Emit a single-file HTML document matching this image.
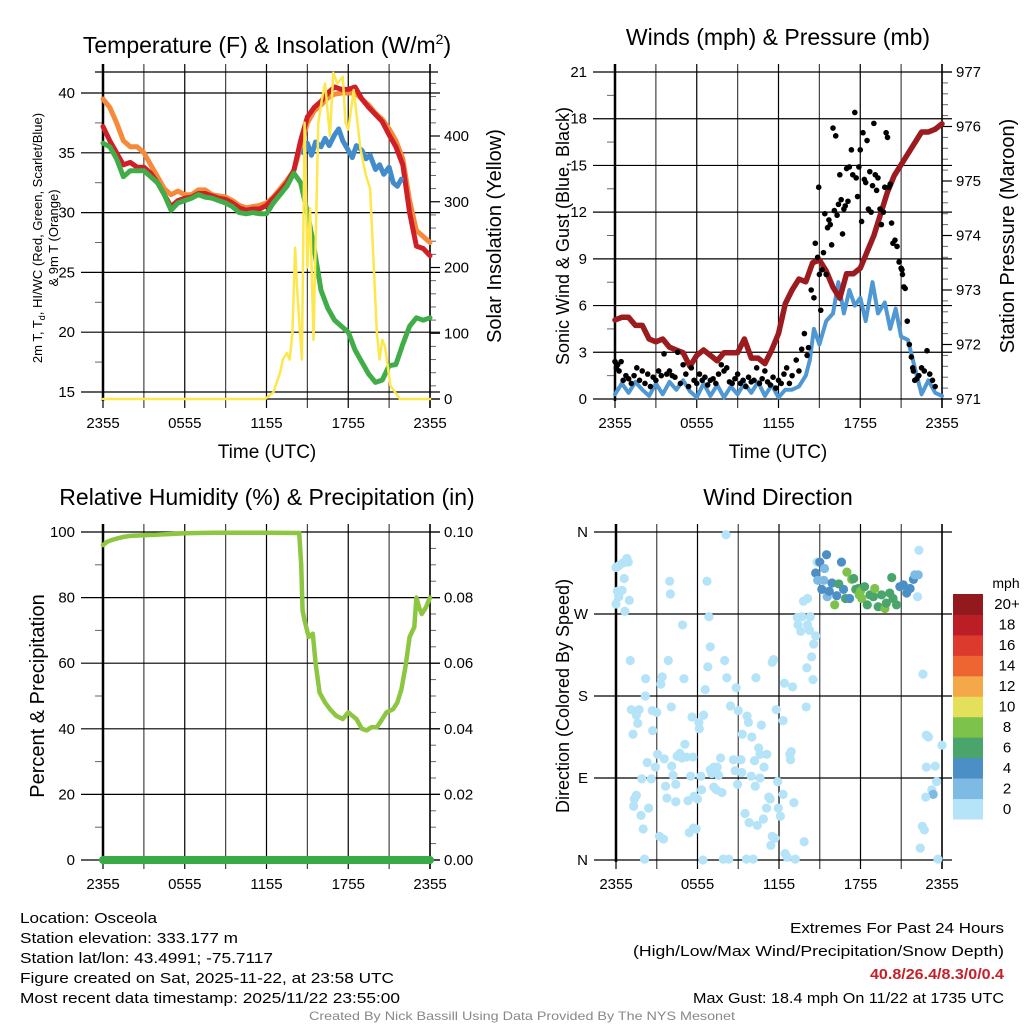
<!DOCTYPE html>
<html><head><meta charset="utf-8">
<style>
html,body{margin:0;padding:0;background:#fff;}
svg{display:block;font-family:"Liberation Sans",sans-serif;}
.ft{font-family:"Liberation Sans",sans-serif;font-size:15px;fill:#000;}
</style></head>
<body>
<svg id="chart" width="1024" height="1024" viewBox="0 0 1024 1024" xmlns="http://www.w3.org/2000/svg">
<rect width="1024" height="1024" fill="#fff"/>
<text x="267" y="53" font-size="23" text-anchor="middle">Temperature (F) &amp; Insolation (W/m<tspan dy="-9" font-size="14">2</tspan><tspan dy="9">)</tspan></text>
<text x="778" y="45" font-size="23" text-anchor="middle">Winds (mph) &amp; Pressure (mb)</text>
<text x="267" y="505" font-size="23" text-anchor="middle">Relative Humidity (%) &amp; Precipitation (in)</text>
<text x="778" y="505" font-size="23" text-anchor="middle">Wind Direction</text>
<text x="267" y="458" font-size="19" text-anchor="middle">Time (UTC)</text>
<text x="778" y="458" font-size="19" text-anchor="middle">Time (UTC)</text>
<text transform="translate(42,238) rotate(-90)" font-size="13" text-anchor="middle">2m T, T<tspan dy="3" font-size="9">d</tspan><tspan dy="-3">, HI/WC (Red, Green, Scarlet/Blue)</tspan></text>
<text transform="translate(58,238) rotate(-90)" font-size="13" text-anchor="middle">&amp; 9m T (Orange)</text>
<text transform="translate(501,236) rotate(-90)" font-size="20" text-anchor="middle">Solar Insolation (Yellow)</text>
<text transform="translate(569,236) rotate(-90)" font-size="18" text-anchor="middle">Sonic Wind &amp; Gust (Blue, Black)</text>
<text transform="translate(1014,236) rotate(-90)" font-size="20" text-anchor="middle">Station Pressure (Maroon)</text>
<text transform="translate(44,696) rotate(-90)" font-size="20" text-anchor="middle">Percent &amp; Precipitation</text>
<text transform="translate(569,696) rotate(-90)" font-size="18" text-anchor="middle">Direction (Colored By Speed)</text>
<text x="1006" y="588" font-size="14" text-anchor="middle">mph</text>
<g>
<text x="20" y="923" class="ft" textLength="137" lengthAdjust="spacingAndGlyphs">Location: Osceola</text>
<text x="20" y="943" class="ft" textLength="218" lengthAdjust="spacingAndGlyphs">Station elevation: 333.177 m</text>
<text x="20" y="963" class="ft" textLength="253" lengthAdjust="spacingAndGlyphs">Station lat/lon: 43.4991; -75.7117</text>
<text x="20" y="983" class="ft" textLength="374" lengthAdjust="spacingAndGlyphs">Figure created on Sat, 2025-11-22, at 23:58 UTC</text>
<text x="20" y="1003" class="ft" textLength="380" lengthAdjust="spacingAndGlyphs">Most recent data timestamp: 2025/11/22 23:55:00</text>
</g>
<g>
<text x="790" y="933" class="ft" textLength="214" lengthAdjust="spacingAndGlyphs">Extremes For Past 24 Hours</text>
<text x="633" y="956" class="ft" textLength="371" lengthAdjust="spacingAndGlyphs">(High/Low/Max Wind/Precipitation/Snow Depth)</text>
<text x="870" y="979" class="ft" textLength="134" lengthAdjust="spacingAndGlyphs" style="fill:#c8202a;font-weight:bold">40.8/26.4/8.3/0/0.4</text>
<text x="693" y="1003" class="ft" textLength="311" lengthAdjust="spacingAndGlyphs">Max Gust: 18.4 mph On 11/22 at 1735 UTC</text>
</g>
<text x="309" y="1020" font-size="12" fill="#888" textLength="426" lengthAdjust="spacingAndGlyphs">Created By Nick Bassill Using Data Provided By The NYS Mesonet</text>
</svg>
<script>
const timeHours=[0,6,12,18,24];
const timeLabels=['2355','0555','1155','1755','2355'];
const tempTicks=[15,20,25,30,35,40];
const insolTicks=[0,100,200,300,400];
const windTicks=[0,3,6,9,12,15,18,21];
const presTicks=[971,972,973,974,975,976,977];
const rhTicks=[0,20,40,60,80,100];
const precipTicks=['0.00','0.02','0.04','0.06','0.08','0.10'];
const dirTicks=[0,90,180,270,360];
const dirLabels=['N','E','S','W','N'];

const tHours=[0,0.5,1,1.5,2,2.5,3,3.5,4,4.5,5,5.5,6,6.5,7,7.5,8,8.5,9,9.5,10,10.5,11,11.5,12,12.5,13,13.5,14,14.5,15,15.5,16,16.5,17,17.5,18,18.5,19,19.5,20,20.5,21,21.5,22,22.5,23,23.5,24];
const temp2m=[37.2,36,35,34,34.2,33.8,33.8,33.3,32.5,31.5,30.5,31,31.2,31.3,31.6,31.6,31.4,31.2,31.1,30.8,30.4,30.2,30.3,30.3,30.6,31.2,31.8,32.5,33.5,36,38,38.8,39.3,40,40.5,40.3,40.3,40.5,39.5,38.8,38.2,37.6,36.5,35.5,34,30,27.2,27,26.4];
const temp9m=[39.5,38.8,37.5,36,35.5,35.5,35,34,33,32,31.5,31.8,31.5,31.5,31.9,31.9,31.5,31.4,31.3,31,30.6,30.4,30.5,30.6,30.8,31.3,32,32.7,33.5,35.5,37.5,38.5,39,39.6,39.9,40,40,40,39.5,39,38.3,37.8,37,36,34.5,31,28.5,28,27.5];
const dewpt=[35.8,35.5,34.5,33,33.5,33.5,33.5,33,32.5,31.5,30.2,30.8,31,31.2,31.5,31.3,31.2,31,30.8,30.5,30,29.9,30,29.9,29.9,30.8,31.5,32.2,33.3,32.5,30,27,23.5,22,21,20.5,20,18.5,17.5,16.5,15.8,16,17.2,17.3,19,20.5,21.2,21,21.2];
const hiwcHours=[14.7,15,15.3,15.6,16,16.3,16.6,17,17.3,17.6,18,18.3,18.6,19,19.3,19.6,20,20.3,20.6,21,21.3,21.6,21.9];
const hiwc=[35,35.8,34.8,35.9,35.5,36.2,35.6,36.5,37,36,35.2,34.6,35.6,35.2,34.5,34.8,33.6,34,33.2,33.8,32.5,32.2,32.8];
const solHours=[0,11.9,12.5,13.0,13.2,13.5,13.7,13.9,14.1,14.3,14.6,14.8,15.0,15.2,15.45,15.8,16.1,16.3,16.65,16.9,17.2,17.6,17.8,18.0,18.4,18.9,19.3,19.6,20.1,20.3,20.5,20.7,21.1,21.8,24];
const solar=[0,0,10,40,60,70,60,100,230,150,60,420,200,290,90,420,460,480,400,496,480,490,420,410,470,380,340,320,100,60,90,80,20,0,0];

const windHours=[0,0.5,1,1.5,2,2.5,3,3.5,4,4.5,5,5.5,6,6.5,7,7.5,8,8.5,9,9.5,10,10.5,11,11.5,12,12.5,13,13.5,14,14.3,14.6,15,15.5,16,16.4,16.8,17.2,17.6,18,18.4,18.9,19.3,19.8,20.2,20.6,21,21.5,22,22.5,23,23.5,24];
const windMph=[0.3,1.0,0.4,1.1,0.6,0.2,1.0,0.3,1.1,0.6,1.2,0.5,0.1,1.0,0.2,0.9,0.1,0.8,0.3,1.0,0.4,1.1,0.2,0.9,0.1,0.6,0.6,0.8,1.5,2.5,4.5,3.5,5,5.5,7.5,5.5,7,6,6.5,5,7.5,5.5,6.2,4.5,5.8,4.0,3.8,2.0,0.3,1.2,0.4,0.2];
const presHours=[0,0.5,1,1.5,2,2.5,3,3.5,4,4.5,5,5.5,6,6.5,7,7.5,8,8.5,9,9.5,10,10.5,11,11.5,12,12.5,13,13.5,14,14.5,15,15.5,16,16.5,17,17.5,18,18.5,19,19.5,20,20.5,21,21.5,22,22.5,23,23.5,24];
const presMb=[972.45,972.5,972.5,972.35,972.35,972.1,972.05,972.1,971.95,971.9,971.85,971.6,971.8,971.9,971.8,971.7,971.85,971.85,971.85,972.1,971.75,971.75,971.65,971.9,972.2,972.75,973.0,973.2,973.15,973.5,973.55,973.35,973.05,972.85,973.3,973.3,973.4,973.7,974.0,974.4,974.8,975.1,975.3,975.5,975.7,975.9,975.9,975.95,976.05];
const gustHours=[0,0.1,0.2,0.3,0.45,0.6,0.8,1.0,1.2,1.4,1.6,1.8,2.0,2.2,2.4,2.6,2.8,3.0,3.2,3.4,3.6,3.8,4.0,4.2,4.4,4.6,4.8,5.0,5.2,5.4,5.6,5.8,6.0,6.2,6.4,6.6,6.8,7.0,7.2,7.4,7.6,7.8,8.0,8.2,8.4,8.6,8.8,9.0,9.2,9.4,9.6,9.8,10.0,10.2,10.4,10.6,10.8,11.0,11.2,11.4,11.6,11.8,12.0,12.2,12.4,12.6,12.8,13.0,13.3,13.5,13.7,13.9,14.1,14.2,14.4,14.6,14.7,14.87,14.95,15.0,15.1,15.2,15.3,15.4,15.5,15.6,15.7,15.8,15.9,16.0,16.1,16.2,16.3,16.4,16.5,16.6,16.7,16.8,16.9,17.0,17.1,17.2,17.35,17.45,17.6,17.7,17.8,17.9,18.0,18.1,18.2,18.3,18.4,18.5,18.6,18.7,18.8,18.9,19.0,19.1,19.2,19.3,19.45,19.55,19.7,19.8,19.9,20.0,20.1,20.2,20.3,20.4,20.55,20.7,20.85,21.0,21.06,21.1,21.2,21.3,21.45,21.6,21.75,21.85,21.9,22.0,22.15,22.3,22.5,22.7,22.9,23.1,23.3,23.5,23.7,23.9,24];
const gustMph=[2.4,2.0,2.2,1.8,2.4,1.2,1.5,1.3,1.0,1.5,2.0,1.2,1.8,1.0,1.6,0.8,1.4,1.2,1.8,1.5,2.9,1.6,1.8,1.5,1.4,3.0,1.0,2.2,1.6,0.8,2.0,1.2,1.0,1.6,1.2,1.4,0.9,1.2,1.3,1.0,1.6,2.2,1.8,2.0,1.1,1.0,1.3,1.6,1.0,1.2,0.8,1.4,1.1,1.2,2.0,1.0,1.3,1.8,1.1,0.9,1.4,0.7,1.2,1.0,1.6,2.0,1.0,1.5,2.5,1.8,3.2,4.2,2.8,3.3,7.0,6.5,10.0,9.1,13.6,8.0,5.7,8.3,9.4,11.9,8.0,11.0,11.5,11.2,9.9,17.4,12.1,16.9,11.8,12.5,14.4,12.8,10.6,12.2,12.4,14.8,12.7,14.9,16.0,14.4,18.4,14.2,13.0,14.9,16.0,11.4,17.1,14.1,13.9,16.6,12.2,14.6,12.0,13.7,17.7,14.4,13.4,14.2,12.2,11.2,12.0,13.6,17.1,16.8,13.6,13.8,11.3,10.0,10.2,9.8,8.8,8.4,8.3,8.0,7.2,7.1,5.0,3.5,2.7,2.0,1.8,1.2,1.3,1.5,2.0,1.8,3.1,1.6,1.2,0.8];

const rhHours=[0,0.3,0.6,1,1.5,2,3,4,5,6,8,12,14.4,14.55,14.65,14.8,15.1,15.4,15.6,15.9,16.3,16.65,17.1,17.6,18.0,18.3,18.6,19.0,19.35,19.7,20.1,20.5,20.8,21.3,21.6,21.9,22.2,22.5,22.85,23.0,23.2,23.4,23.7,24];
const rhPct=[96,97,97.5,98,98.5,98.8,99,99.2,99.4,99.6,99.8,99.8,99.7,90,76,73,68,69,60,51,48,46,44,43,45,44,43,40,39.5,40.5,40.5,43,45,46,48,52,59,68,71,80,77,75,77,80];
const precipHours=[0,24];
const precipIn=[0,0];

const dirHours=[0,0.2,0.5,0.8,0.9,0.6,0.1,0.45,0.2,0,0.98,0.65,1.05,2.18,2.16,1.13,1.7,1.5,1.6,1.25,2.67,3.0,2.7,2.3,2.9,3.06,1.9,2.6,1.5,1.35,1.3,1.84,2.4,2.0,2.1,3.2,3.5,3.4,3.3,4.07,3.55,3.65,3.75,4.1,4.2,4.4,4.4,4.5,4.7,5.07,5.2,4.85,5.5,5.66,5.6,5,4.9,3.85,3.95,4.0,6.7,6.84,6.94,6.76,6.57,6.1,6.45,6.13,6.25,6.3,5.75,5.3,6,5.7,5.9,5.4,6.4,6.94,7.2,7.45,7.7,7.2,7.4,7.8,7.05,7.55,8.0,8.16,8.1,8.43,7.9,8.3,8.85,9.0,9.3,9.65,9.75,10,8.65,8.77,9.2,8.95,9.26,9.95,10.25,10.2,10.5,10.7,10.6,11.1,10.9,10.6,10.3,9.5,9.8,10.4,10.85,11.25,11.35,11.08,9.6,10.1,11.5,11.7,11.4,11.9,11.95,12.1,12.3,12.3,11.8,11.5,11.6,12.4,13.0,12.8,12.9,12.85,13.1,12.45,12.6,13.2,13.85,14.0,14.05,14.5,14.4,14.55,14.7,14.25,14.1,13.6,13.4,13.7,14.3,13.35,13.8,14.1,
14.8,15.0,15.5,15.35,14.7,14.85,15.3,15.15,15.55,15.7,15.9,16.4,16.1,16.25,16.6,16.75,16.9,17.0,17.2,17.35,17.5,17.65,17.85,17.9,18.0,18.1,18.3,18.5,18.7,18.95,19.05,19.3,19.55,19.8,19.9,20.3,20.15,20.4,20.65,20.9,21.15,21.4,21.65,21.9,22.0,22.25,22.2,22.3,22.6,22.85,23.0,22.85,23.5,24,23.6,23.25,23.35,22.8,22.55,22.7,22.4,23.7];
const dirDeg=[321,323,326,331,327,309,295,296,289,281,285,273,219,199,180,165,165,159,150,138,164,162,142,107,102,116,89,89,71,67,59,49,57,34,1,26,23,201,193,168,111,81,68,103,93,83,64,114,117,127,113,112,92,113,157,199,258,219,306,292,306,267,234,212,187,151,159,144,92,77,70,65,67,35,34,30,0,99,102,102,112,80,77,74,95,93,219,200,357,169,1,1,189,164,138,158,151,135,110,98,110,83,96,92,81,109,123,148,116,116,102,90,200,51,41,38,45,69,67,57,1,1,26,24,16,86,57,48,72,153,165,217,220,194,190,116,119,110,63,7,3,1,20,168,211,198,223,237,246,252,258,251,258,267,267,266,284,287,
327,327,335,320,315,307,307,297,289,295,304,303,280,290,327,297,287,316,287,308,309,297,298,291,295,287,300,280,291,289,298,278,291,276,282,310,293,287,280,300,302,293,298,308,313,313,289,340,204,137,135,102,103,126,86,77,72,69,37,33,13,1];
const dirSpeed=[1,1,1,1,1,1,1,1,1,1,1,1,1,1,1,1,1,1,1,1,1,1,1,1,1,1,1,1,1,1,1,1,1,1,1,1,1,1,1,1,1,1,1,1,1,1,1,1,1,1,1,1,1,1,1,1,1,1,1,1,1,1,1,1,1,1,1,1,1,1,1,1,1,1,1,1,1,1,1,1,1,1,1,1,1,1,1,1,1,1,1,1,1,1,1,1,1,1,1,1,1,1,1,1,1,1,1,1,1,1,1,1,1,1,1,1,1,1,1,1,1,1,1,1,1,1,1,1,1,1,1,1,1,1,1,1,1,1,1,1,1,1,1,1,1,1,1,1,1,1,1,1,1,1,1,1,1,1,1,
5,5,3,5,3,3,5,3,5,5,7,9,5,5,5,7,9,5,9,7,7,7,9,9,9,7,7,7,7,9,7,7,9,7,7,7,7,7,5,5,5,5,5,3,3,1,1,1,1,1,1,1,1,1,1,3,1,1,1,1,1,1];
const cbLabels=['0','2','4','6','8','10','12','14','16','18','20+'];
const cbColors=['#b5e3f8','#7dbbe4','#4b8fc6','#4aa56c','#7dc24a','#e5e05c','#f5a84a','#ef6531','#dc3a2c','#bc1e26','#921a1c'];

const NS='http://www.w3.org/2000/svg';
const svg=document.getElementById('chart');
function mk(tag,parent,a){const e=document.createElementNS(NS,tag);for(const k in a)e.setAttribute(k,a[k]);parent.appendChild(e);return e;}
function linX(x0,x1){return h=>x0+h/24*(x1-x0);}
function lin(d0,d1,p0,p1){return v=>p0+(v-d0)/(d1-d0)*(p1-p0);}

const P1={x0:103,x1:430,y0:72,y1:399,name:'temp'};
const P2={x0:615,x1:942,y0:72,y1:399,name:'wind'};
const P3={x0:103,x1:430,y0:532,y1:860,name:'humidity'};
const P4={x0:616,x1:942,y0:532,y1:860,name:'direction'};

function frame(P,leftVals,leftLabels,leftScale,rightVals,rightLabels,rightScale,minorL,minorR){
  const g=mk('g',svg,{});
  
  
  const X=linX(P.x0,P.x1);
  for(let h=0;h<=24;h+=3){
    const x=X(h);
    const l=mk('line',g,{x1:x,x2:x,y1:P.y0-8,y2:P.y1+9,stroke:(h%6==0)?'#000':'#444','stroke-width':1.2});
    
    
  }
  timeHours.forEach((h,i)=>{
    const t=mk('text',g,{x:X(h),y:P.y1+29,'font-size':15,'text-anchor':'middle'});t.textContent=timeLabels[i];
    
    
  });
  leftVals.forEach((v,i)=>{
    const y=leftScale(v);
    const l=mk('line',g,{x1:P.x0-22,x2:P.x1+10,y1:y,y2:y,stroke:'#000','stroke-width':1.2});
    
    
    const t=mk('text',g,{x:P.x0-28,y:y+5,'font-size':15,'text-anchor':'end'});t.textContent=leftLabels[i];
    
    
  });
  minorL.forEach(v=>{const y=leftScale(v);
    const l=mk('line',g,{x1:P.x0-8,x2:P.x0,y1:y,y2:y,stroke:'#666','stroke-width':1});
    
    });
  if(rightVals){
    rightVals.forEach((v,i)=>{
      const y=rightScale(v);
      const l=mk('line',g,{x1:P.x1,x2:P.x1+10,y1:y,y2:y,stroke:'#000','stroke-width':1.2});
      
      
      const t=mk('text',g,{x:P.x1+14,y:y+5,'font-size':15,'text-anchor':'start'});t.textContent=rightLabels[i];
      
      
    });
    minorR.forEach(v=>{const y=rightScale(v);
      const l=mk('line',g,{x1:P.x1,x2:P.x1+6,y1:y,y2:y,stroke:'#666','stroke-width':1});
      
      });
  }
  const b=mk('line',g,{x1:P.x0,x2:P.x0,y1:P.y0-8,y2:P.y1+2,stroke:'#000','stroke-width':2.5});
  
  
  const r=mk('line',g,{x1:P.x1,x2:P.x1,y1:P.y0-8,y2:P.y1+9,stroke:'#000','stroke-width':1.5});
  
  
  return X;
}
function path(P,xs,ys,X,Y,color,w,name){
  const n=Math.min(xs.length,ys.length);
  let d='';for(let i=0;i<n;i++){d+=(i?'L':'M')+X(xs[i]).toFixed(1)+','+Y(ys[i]).toFixed(1);}
  const p=mk('path',svg,{d:d,fill:'none',stroke:color,'stroke-width':w,'stroke-linejoin':'round','stroke-linecap':'round'});
  
  
}

// Panel 1
const T=lin(15,40,392,93), S=lin(0,400,399,136);
const X1=frame(P1,tempTicks,tempTicks,T,insolTicks,insolTicks,S,[17.5,22.5,27.5,32.5,37.5],[20,40,60,80,120,140,160,180,220,240,260,280,320,340,360,380,420,440,460,480]);
{const l=mk('line',svg,{x1:P1.x0-8,x2:P1.x1+8,y1:P1.y0,y2:P1.y0,stroke:'#000','stroke-width':1.2});


const l2=mk('line',svg,{x1:P1.x0,x2:P1.x1+10,y1:P1.y1,y2:P1.y1,stroke:'#000','stroke-width':1.2});

}
path(P1,tHours,temp9m,X1,T,'#f58a3a',5,'9m-temp-line');
path(P1,tHours,temp2m,X1,T,'#cf2027',5,'2m-temp-line');
path(P1,tHours,dewpt,X1,T,'#41ad48',5,'dewpoint-line');
path(P1,hiwcHours,hiwc,X1,T,'#438ccb',5,'heat-index-wind-chill-line');
path(P1,solHours,solar,X1,S,'#fde74c',2.5,'solar-insolation-line');

// Panel 2
const W=lin(0,21,399,72), Pr=lin(971,977,399,72);
const X2=frame(P2,windTicks,windTicks,W,presTicks,presTicks,Pr,[1.5,4.5,7.5,10.5,13.5,16.5,19.5],[971.2,971.4,971.6,971.8,972.2,972.4,972.6,972.8,973.2,973.4,973.6,973.8,974.2,974.4,974.6,974.8,975.2,975.4,975.6,975.8,976.2,976.4,976.6,976.8]);
path(P2,windHours,windMph,X2,W,'#4f98d3',4,'sonic-wind-line');
path(P2,presHours,presMb,X2,Pr,'#9b1b1e',5.5,'station-pressure-line');
const gN=Math.min(gustHours.length,gustMph.length);
for(let i=0;i<gN;i++){
  const c=mk('circle',svg,{cx:X2(gustHours[i]),cy:W(gustMph[i]),r:2.8,fill:'#000'});
  
  
}

// Panel 3
const R=lin(0,100,860,532), Pc=lin(0,0.1,860,532);
const X3=frame(P3,rhTicks,rhTicks,R,[0,0.02,0.04,0.06,0.08,0.1],precipTicks,Pc,[10,30,50,70,90],[0.005,0.01,0.015,0.025,0.03,0.035,0.045,0.05,0.055,0.065,0.07,0.075,0.085,0.09,0.095]);
path(P3,rhHours,rhPct,X3,R,'#8dc641',4.5,'relative-humidity-line');
path(P3,precipHours,precipIn,X3,Pc,'#3aaa47',8,'precipitation-line');

// Panel 4
const D=lin(0,360,860,532);
const X4=frame(P4,dirTicks,dirLabels,D,null,null,null,[],[]);
function spColor(s){const i=Math.min(10,Math.floor(s/2));return cbColors[i];}
const dN=Math.min(dirHours.length,dirDeg.length,dirSpeed.length);
for(let i=0;i<dN;i++){
  const c=mk('circle',svg,{cx:X4(dirHours[i]),cy:D(dirDeg[i]),r:4.6,fill:spColor(dirSpeed[i])});
  
  
}
const cbH=225/11;
cbColors.forEach((col,i)=>{
  const y=819-(i+1)*cbH;
  const r=mk('rect',svg,{x:953,y:y,width:30,height:cbH+0.5,fill:col});
  
  
  const t=mk('text',svg,{x:1007,y:y+cbH/2+5,'font-size':15,'text-anchor':'middle'});t.textContent=cbLabels[i];
  
  
});
</script>
</body></html>
